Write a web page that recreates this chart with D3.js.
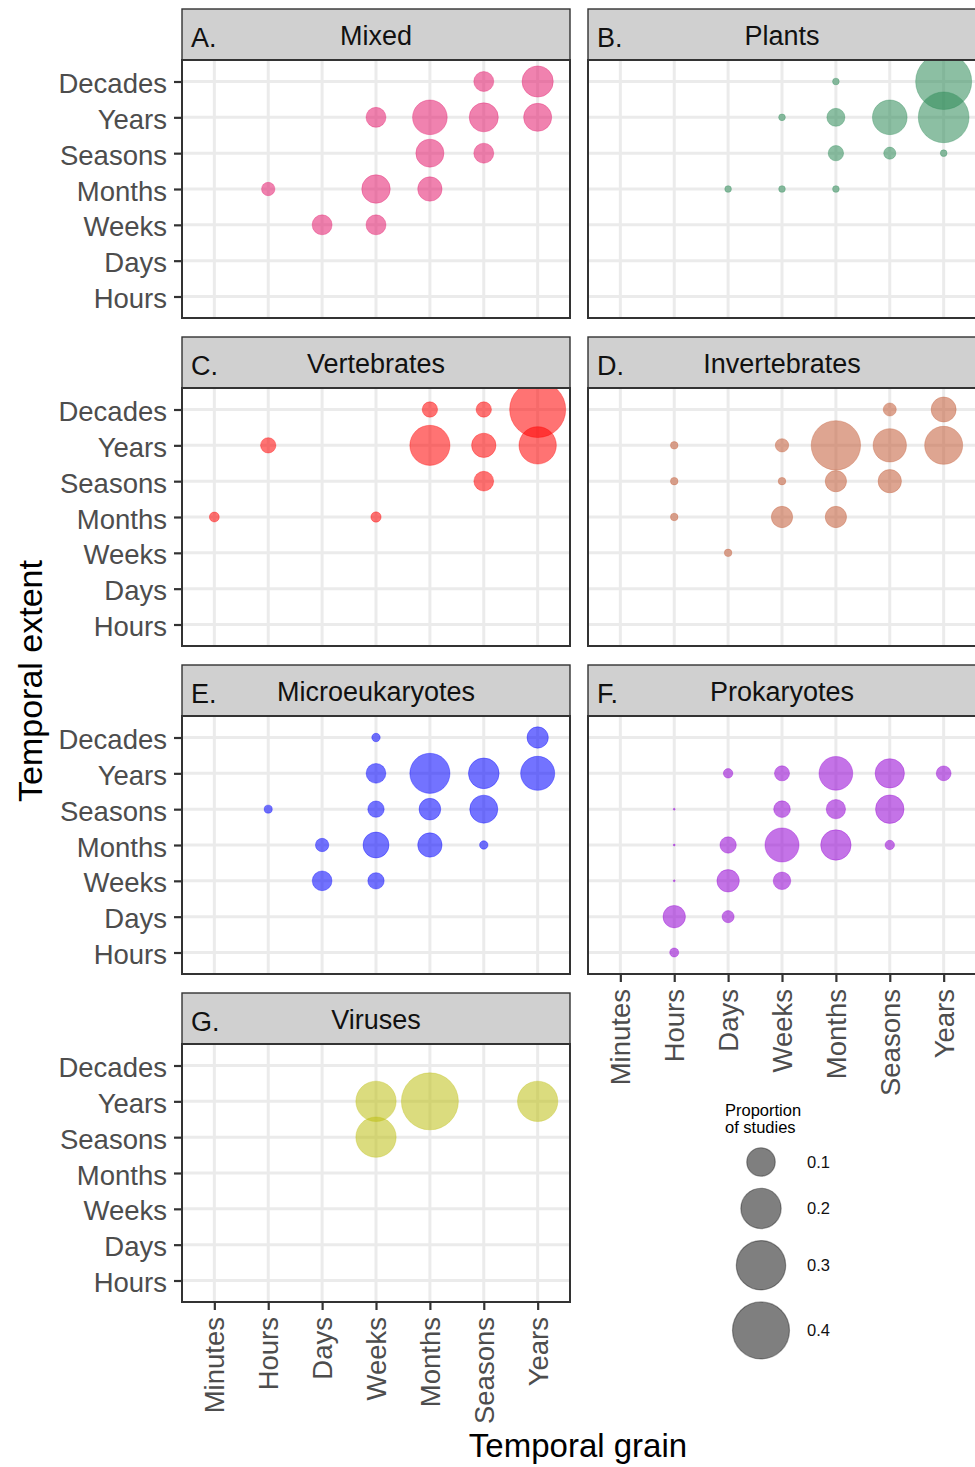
<!DOCTYPE html>
<html>
<head>
<meta charset="utf-8">
<script src="https://cdn.jsdelivr.net/npm/d3@7"></script>
<style>
  body { margin: 0; background: #fff; }
  svg { font-family: "Liberation Sans", Arial, sans-serif; }
</style>
</head>
<body>
<script>
const grains = ['Minutes', 'Hours', 'Days', 'Weeks', 'Months', 'Seasons', 'Years'];
const extents = ['Hours', 'Days', 'Weeks', 'Months', 'Seasons', 'Years', 'Decades'];

const groups = ['Mixed', 'Plants', 'Vertebrates', 'Invertebrates', 'Microeukaryotes', 'Prokaryotes', 'Viruses'];
const letters = ['A.', 'B.', 'C.', 'D.', 'E.', 'F.', 'G.'];
const colors = ['#e41c6e', '#2e8b57', '#ff0000', '#c35b37', '#0000ff', '#9400d3', '#bec014'];

// [grain, extent, proportion of studies]
const mixed = [
  ['Seasons', 'Decades', 0.049], ['Years', 'Decades', 0.12],
  ['Weeks', 'Years', 0.049], ['Months', 'Years', 0.148], ['Seasons', 'Years', 0.104], ['Years', 'Years', 0.097],
  ['Months', 'Seasons', 0.097], ['Seasons', 'Seasons', 0.049],
  ['Hours', 'Months', 0.022], ['Weeks', 'Months', 0.10], ['Months', 'Months', 0.073],
  ['Days', 'Weeks', 0.049], ['Weeks', 'Weeks', 0.049]
];
const plants = [
  ['Months', 'Decades', 0.0055], ['Years', 'Decades', 0.387],
  ['Weeks', 'Years', 0.0055], ['Months', 'Years', 0.04], ['Seasons', 'Years', 0.148], ['Years', 'Years', 0.317],
  ['Months', 'Seasons', 0.029], ['Seasons', 'Seasons', 0.018], ['Years', 'Seasons', 0.0055],
  ['Days', 'Months', 0.0055], ['Weeks', 'Months', 0.0055], ['Months', 'Months', 0.0055]
];
const vertebrates = [
  ['Months', 'Decades', 0.029], ['Seasons', 'Decades', 0.029], ['Years', 'Decades', 0.387],
  ['Hours', 'Years', 0.029], ['Months', 'Years', 0.198], ['Seasons', 'Years', 0.073], ['Years', 'Years', 0.172],
  ['Seasons', 'Seasons', 0.048],
  ['Minutes', 'Months', 0.012], ['Weeks', 'Months', 0.013]
];
const invertebrates = [
  ['Seasons', 'Decades', 0.021], ['Years', 'Decades', 0.077],
  ['Hours', 'Years', 0.007], ['Weeks', 'Years', 0.022], ['Months', 'Years', 0.30], ['Seasons', 'Years', 0.137], ['Years', 'Years', 0.178],
  ['Hours', 'Seasons', 0.007], ['Weeks', 'Seasons', 0.007], ['Months', 'Seasons', 0.056], ['Seasons', 'Seasons', 0.067],
  ['Hours', 'Months', 0.007], ['Weeks', 'Months', 0.056], ['Months', 'Months', 0.056],
  ['Days', 'Weeks', 0.007]
];
const microeukaryotes = [
  ['Weeks', 'Decades', 0.0087], ['Years', 'Decades', 0.056],
  ['Weeks', 'Years', 0.048], ['Months', 'Years', 0.198], ['Seasons', 'Years', 0.116], ['Years', 'Years', 0.143],
  ['Hours', 'Seasons', 0.008], ['Weeks', 'Seasons', 0.033], ['Months', 'Seasons', 0.058], ['Seasons', 'Seasons', 0.097],
  ['Days', 'Months', 0.022], ['Weeks', 'Months', 0.083], ['Months', 'Months', 0.073], ['Seasons', 'Months', 0.0087],
  ['Days', 'Weeks', 0.048], ['Weeks', 'Weeks', 0.033]
];
const prokaryotes = [
  ['Days', 'Years', 0.011], ['Weeks', 'Years', 0.028], ['Months', 'Years', 0.14], ['Seasons', 'Years', 0.106], ['Years', 'Years', 0.027],
  ['Hours', 'Seasons', 0.0005], ['Weeks', 'Seasons', 0.034], ['Months', 'Seasons', 0.046], ['Seasons', 'Seasons', 0.10],
  ['Hours', 'Months', 0.0005], ['Days', 'Months', 0.033], ['Weeks', 'Months', 0.143], ['Months', 'Months', 0.114], ['Seasons', 'Months', 0.011],
  ['Hours', 'Weeks', 0.0005], ['Days', 'Weeks', 0.062], ['Weeks', 'Weeks', 0.038],
  ['Hours', 'Days', 0.062], ['Days', 'Days', 0.018],
  ['Hours', 'Hours', 0.01]
];
const viruses = [
  ['Weeks', 'Years', 0.2], ['Months', 'Years', 0.4], ['Years', 'Years', 0.2],
  ['Weeks', 'Seasons', 0.2]
];
const panelData = [mixed, plants, vertebrates, invertebrates, microeukaryotes, prokaryotes, viruses];

const legendValues = [0.1, 0.2, 0.3, 0.4];

const width = 975, height = 1467;
const panelW = 388, panelH = 258, stripH = 51;
const colX = [182, 588];
const rowY = [9, 337, 665, 993];
const alpha = 0.55;

const svg = d3.select('body').append('svg')
  .attr('width', width)
  .attr('height', height);

const x = d3.scalePoint().domain(grains).range([0, panelW]).padding(0.6);
const y = d3.scalePoint().domain(extents).range([panelH, 0]).padding(0.6);
const r = d3.scaleSqrt().domain([0, 0.4]).range([0, 28.5]);

groups.forEach((name, i) => {
  const col = i % 2, row = Math.floor(i / 2);
  const g = svg.append('g').attr('transform', `translate(${colX[col]},${rowY[row]})`);

  // strip
  g.append('rect')
    .attr('width', panelW).attr('height', stripH)
    .attr('fill', '#d0d0d0').attr('stroke', '#333').attr('stroke-width', 1.4);
  g.append('text')
    .attr('x', 9).attr('y', 38)
    .attr('font-size', 27).attr('fill', '#111')
    .text(letters[i]);
  g.append('text')
    .attr('x', panelW / 2).attr('y', 36)
    .attr('text-anchor', 'middle')
    .attr('font-size', 27).attr('fill', '#111')
    .text(name);

  const p = g.append('g').attr('transform', `translate(0,${stripH})`);

  p.append('clipPath').attr('id', `clip${i}`)
    .append('rect').attr('width', panelW).attr('height', panelH);

  p.append('rect').attr('width', panelW).attr('height', panelH).attr('fill', '#fff');

  p.selectAll('line.gx').data(grains).enter().append('line')
    .attr('x1', d => x(d)).attr('x2', d => x(d))
    .attr('y1', 0).attr('y2', panelH)
    .attr('stroke', '#ebebeb').attr('stroke-width', 3);
  p.selectAll('line.gy').data(extents).enter().append('line')
    .attr('y1', d => y(d)).attr('y2', d => y(d))
    .attr('x1', 0).attr('x2', panelW)
    .attr('stroke', '#ebebeb').attr('stroke-width', 3);

  p.append('g').attr('clip-path', `url(#clip${i})`)
    .selectAll('circle').data(panelData[i]).enter().append('circle')
    .attr('cx', d => x(d[0]))
    .attr('cy', d => y(d[1]))
    .attr('r', d => r(d[2]))
    .attr('fill', colors[i]).attr('fill-opacity', alpha)
    .attr('stroke', colors[i]).attr('stroke-opacity', alpha * 0.6).attr('stroke-width', 1);

  p.append('rect')
    .attr('width', panelW).attr('height', panelH)
    .attr('fill', 'none').attr('stroke', '#333').attr('stroke-width', 2);

  if (col === 0) {
    const ax = p.append('g').call(d3.axisLeft(y).tickSize(8).tickPadding(7));
    ax.select('.domain').remove();
    ax.selectAll('line').attr('stroke', '#333').attr('stroke-width', 2.2);
    ax.selectAll('text').attr('font-size', 27.5).attr('fill', '#4d4d4d')
      .attr('dy', '0.4em')
      .attr('font-family', '"Liberation Sans", Arial, sans-serif');
  }

  if (i === 5 || i === 6) {
    const ax = p.append('g').attr('transform', `translate(0,${panelH})`)
      .call(d3.axisBottom(x).tickSize(8));
    ax.select('.domain').remove();
    ax.selectAll('line').attr('stroke', '#333').attr('stroke-width', 2.2);
    ax.selectAll('text')
      .attr('transform', 'rotate(-90)')
      .attr('text-anchor', 'end')
      .attr('x', -15).attr('y', 0).attr('dy', '0.35em')
      .attr('font-size', 27.5).attr('fill', '#4d4d4d')
      .attr('font-family', '"Liberation Sans", Arial, sans-serif');
  }
});

// axis titles
svg.append('text')
  .attr('x', 578).attr('y', 1457)
  .attr('text-anchor', 'middle')
  .attr('font-size', 33).attr('fill', '#000')
  .text('Temporal grain');

svg.append('text')
  .attr('transform', 'translate(42,681) rotate(-90)')
  .attr('text-anchor', 'middle')
  .attr('font-size', 34).attr('fill', '#000')
  .text('Temporal extent');

// size legend
const legend = svg.append('g').attr('transform', 'translate(725,0)');
legend.append('text').attr('x', 0).attr('y', 1116).attr('font-size', 16.5).text('Proportion');
legend.append('text').attr('x', 0).attr('y', 1133).attr('font-size', 16.5).text('of studies');

let cy = 1162 - r(legendValues[0]);
const keys = legendValues.map((v, k) => {
  if (k > 0) cy += 12;
  cy += r(v);
  const c = cy;
  cy += r(v);
  return { v, c };
});

legend.selectAll('circle').data(keys).enter().append('circle')
  .attr('cx', 36).attr('cy', d => d.c).attr('r', d => r(d.v))
  .attr('fill', '#000').attr('fill-opacity', 0.5)
  .attr('stroke', '#000').attr('stroke-opacity', 0.35).attr('stroke-width', 1.2);

legend.selectAll('text.lab').data(keys).enter().append('text')
  .attr('class', 'lab')
  .attr('x', 82).attr('y', d => d.c).attr('dy', '0.35em')
  .attr('font-size', 16.5).attr('fill', '#111')
  .text(d => d.v);
</script>
</body>
</html>
